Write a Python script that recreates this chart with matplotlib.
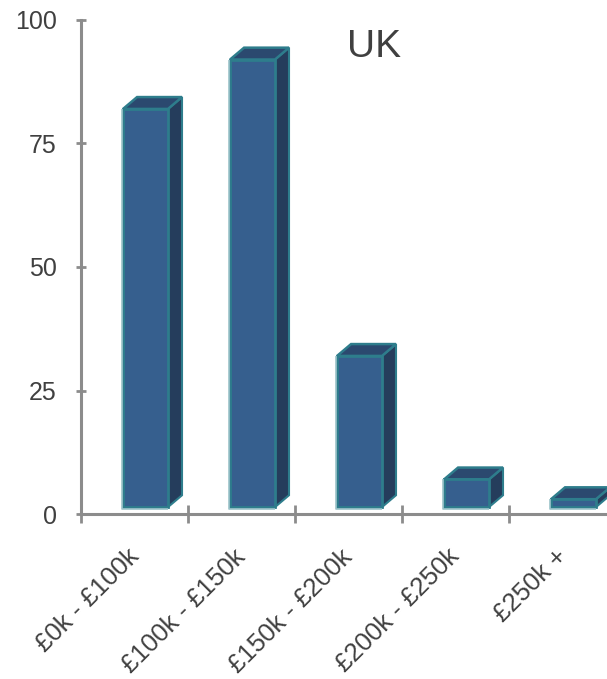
import matplotlib.pyplot as plt
from matplotlib.patches import Polygon
from matplotlib.transforms import ScaledTranslation

plt.rcParams['font.family'] = ['Liberation Sans', 'DejaVu Sans']

categories = ['£0k - £100k', '£100k - £150k', '£150k - £200k', '£200k - £250k', '£250k +']
values = [82, 92, 32, 7, 3]
yticks = [0, 25, 50, 75, 100]
title = 'UK'

front_col = '#365f8e'
side_col = '#253d5c'
top_col = '#2b496f'
edge_col = '#2e7d8c'
hi_col = '#9cc3ca'
axis_col = '#8c8c8c'
text_col = '#404040'

fig = plt.figure(figsize=(6.07, 6.79), dpi=100)
ax = fig.add_axes([81 / 607, 1 - 514 / 679, 535 / 607, 494 / 679])
ax.set_xlim(-0.5, len(categories) - 0.5)
ax.set_ylim(0, 100)

# pseudo-3D columns: front face, right side, top
base = 1.4
off = 0.107     # shift of the front face from the category centre
w = 0.42        # front face width
dx, dy = 0.131, 2.4   # depth offset
for i, v in enumerate(values):
    x0 = i - off
    x1 = x0 + w
    front = [(x0, base), (x1, base), (x1, v), (x0, v)]
    side = [(x1, base), (x1 + dx, base + dy), (x1 + dx, v + dy), (x1, v)]
    top = [(x0, v), (x1, v), (x1 + dx, v + dy), (x0 + dx, v + dy)]
    ax.add_patch(Polygon(side, closed=True, fc=side_col, ec=edge_col, lw=1.5, zorder=2))
    ax.add_patch(Polygon(top, closed=True, fc=top_col, ec=edge_col, lw=1.8, zorder=2))
    ax.add_patch(Polygon(front, closed=True, fc=front_col, ec=edge_col, lw=2.0, zorder=3))
    ax.plot([x0 - 0.006, x0 - 0.006, x1], [v, base - 0.3, base - 0.3], color=hi_col,
            lw=1.2, zorder=4, solid_capstyle='butt')

ax.text(2.24, 94.5, title, fontsize=28, color=text_col, ha='center', va='center')

for s in ['top', 'right']:
    ax.spines[s].set_visible(False)
for s in ['left', 'bottom']:
    ax.spines[s].set_color(axis_col)
    ax.spines[s].set_linewidth(2.2)

ax.set_yticks(yticks)
ax.tick_params(axis='y', direction='inout', length=7, width=2, color=axis_col,
               labelsize=18, labelcolor=text_col, pad=14)

bounds = [i - 0.5 for i in range(len(categories) + 1)]
ax.set_xticks(bounds)
ax.set_xticklabels([])
ax.tick_params(axis='x', which='major', direction='inout', length=13, width=2,
               color=axis_col)
ax.set_xticks(range(len(categories)), minor=True)
ax.set_xticklabels(categories, minor=True, rotation=45, ha='right',
                   rotation_mode='anchor', fontsize=18.5, color=text_col)
ax.tick_params(axis='x', which='minor', length=0, pad=22)
shift = ScaledTranslation(-8 / 100, 0, fig.dpi_scale_trans)
for lbl in ax.get_xticklabels(minor=True):
    lbl.set_transform(lbl.get_transform() + shift)

fig.savefig('out.png', dpi=100)
